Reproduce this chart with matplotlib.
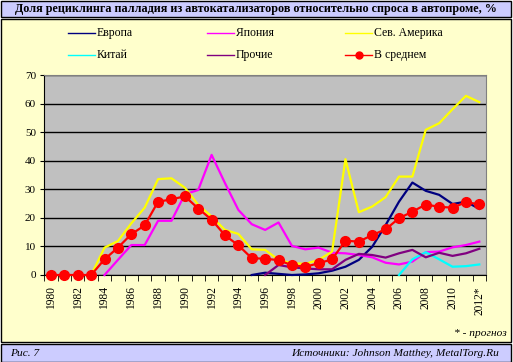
import numpy as np
import matplotlib
matplotlib.use("Agg")
import matplotlib.pyplot as plt
from matplotlib.patches import Rectangle

nan = np.nan
years = [str(y) for y in range(1980, 2012)] + ["2012*"]
tick_labels = [y if i % 2 == 0 else "" for i, y in enumerate(years)]

europe = [nan]*15 + [0, 0.8, 0.4, 0.0, 0.2, 0.6, 1.5, 2.9, 5.3, 9.9, 17.5, 25.7, 32.4, 29.5, 28.1, 24.9, 25.7, 23.2]
japan = [nan]*4 + [0, 5.3, 10.5, 10.5, 19.0, 19.0, 28.3, 29.8, 42.1, 32.2, 22.8, 17.8,
                   15.8, 18.4, 10.2, 9.0, 9.6, 7.8, 7.6, 7.0, 6.2, 4.3, 3.7, 4.7, 8.0, 8.2, 9.7, 10.5, 11.7]
namerica = [nan]*3 + [0, 9.6, 11.9, 18.1, 23.6, 33.6, 33.9, 30.6, 24.6, 20.5, 15.8, 14.4, 9.0,
                      8.8, 5.3, 4.1, 3.9, 5.3, 8.2, 40.6, 22.0, 24.0, 27.3, 34.5, 34.5, 50.9, 53.2, 58.1, 62.8, 60.6]
china = [nan]*26 + [0, 5.5, 8.0, 5.5, 2.9, 3.1, 3.7]
others = [nan]*16 + [0, 3.5, 2.7, 2.3, 2.0, 2.0, 5.3, 7.4, 7.0, 6.1, 7.6, 8.8, 6.2, 7.8, 6.7, 7.6, 9.2]
average = [0, 0, 0, 0, 5.5, 9.6, 14.3, 17.4, 25.7, 26.5, 27.6, 23.3, 19.4, 13.9, 10.4, 5.9,
           5.7, 5.2, 3.4, 2.9, 4.1, 5.5, 12.0, 11.7, 14.0, 16.0, 19.9, 22.2, 24.7, 23.9, 23.6, 25.5, 24.8]

series_names = ["Европа", "Япония", "Сев. Америка", "Китай", "Прочие", "В среднем"]
colors = ["#000080", "#ff00ff", "#ffff00", "#00ffff", "#800080", "#ff0000"]

W, H = 513, 362
fig = plt.figure(figsize=(W/100, H/100), dpi=100)
fig.patch.set_facecolor("white")

def rect(x0, y0, x1, y1, fc, lw=1.0):
    fig.patches.append(Rectangle((x0/W, 1-y1/H), (x1-x0)/W, (y1-y0)/H,
                                 transform=fig.transFigure, facecolor=fc,
                                 edgecolor="black", linewidth=lw, zorder=-5))

rect(1, 0.5, 511.5, 16.5, "#ccccff")
rect(1, 19, 511.5, 341.5, "#ffffcc")
rect(1, 344, 511.5, 361.5, "#ccccff")

serif = "Liberation Serif"
fig.text(256/W, 1-9/H, "Доля рециклинга палладия из автокатализаторов относительно спроса в автопроме, %",
         ha="center", va="center", fontsize=8.7, fontweight="bold", family=serif, color="#000000")
fig.text(10/W, 1-353/H, "Рис. 7", ha="left", va="center", fontsize=8.2, style="italic", family=serif)
fig.text(499/W, 1-353/H, "Источники: Johnson Matthey, MetalTorg.Ru", ha="right", va="center",
         fontsize=8.2, style="italic", family=serif)
fig.text(507/W, 1-334/H, "* - прогноз", ha="right", va="center", fontsize=8.2, style="italic", family=serif)

x0p, x1p, ytop, ybot = 44.3, 486.0, 75.3, 275.0
ax = fig.add_axes([x0p/W, 1-ybot/H, (x1p-x0p)/W, (ybot-ytop)/H])
ax.set_facecolor("#c0c0c0")
x = np.arange(len(years))

data = [europe, japan, namerica, china, others]
for vals, c in zip(data, colors[:5]):
    ax.plot(x, vals, color=c, lw=1.6, clip_on=False, zorder=3)
ax.plot(x, average, color=colors[5], lw=1.6, marker="o", markersize=7,
        markeredgecolor=colors[5], clip_on=False, zorder=4)

ax.set_xlim(-0.5, len(years)-0.5)
ax.set_ylim(0, 70)
ax.set_yticks(range(0, 71, 10))
ax.yaxis.grid(True, color="black", lw=1.0)
ax.set_axisbelow(True)
ax.tick_params(axis="y", length=3, direction="out", labelsize=8, pad=3)
ax.set_xticks(x)
ax.set_xticklabels(tick_labels, rotation=90, fontsize=8.3, family=serif)
ax.set_xticks(np.arange(-0.5, len(years)), minor=True)
ax.tick_params(axis="x", which="major", length=0, pad=8)
ax.tick_params(axis="x", which="minor", length=4, direction="out")
for lab in ax.get_yticklabels():
    lab.set_family(serif)
for s in ["top", "right"]:
    ax.spines[s].set_color("#808080")
ax.spines["left"].set_color("black")
ax.spines["bottom"].set_color("black")

# legend
cols = [68, 207, 345]
rows = [33, 55]
for i, (name, c) in enumerate(zip(series_names, colors)):
    cx = cols[i % 3]
    cy = rows[i // 3]
    yf = 1 - cy/H
    fig.lines.append(plt.Line2D([cx/W, (cx+27)/W], [yf, yf], transform=fig.transFigure,
                                color=c, lw=1.0))
    if i == 5:
        fig.lines.append(plt.Line2D([(cx+13.5)/W], [yf], transform=fig.transFigure,
                                    color=c, marker="o", markersize=5, lw=0))
    fig.text((cx+29)/W, yf, name, ha="left", va="center", fontsize=8.5, family=serif)

fig.savefig("out.png", dpi=100, facecolor=fig.get_facecolor())
